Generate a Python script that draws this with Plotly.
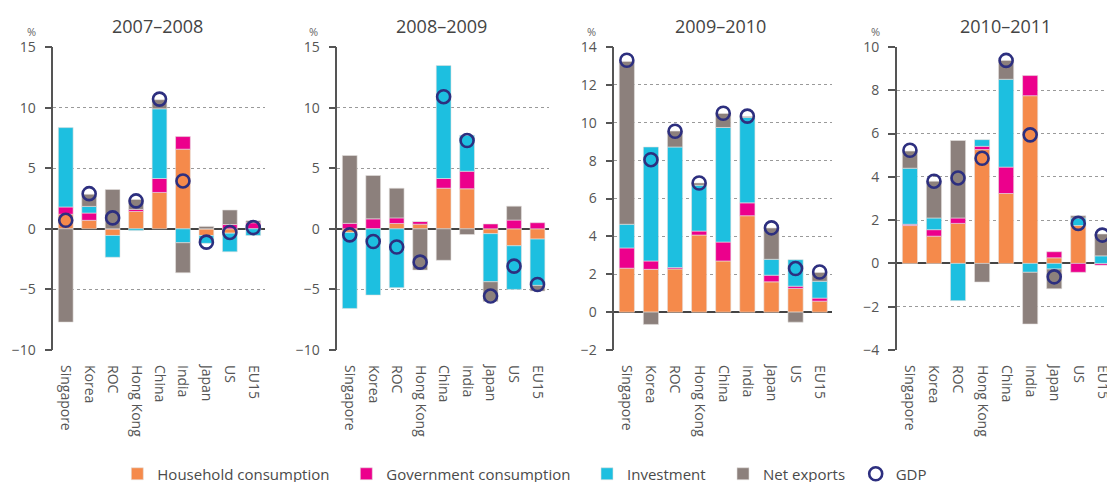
import plotly.graph_objects as go

categories = ["Singapore", "Korea", "ROC", "Hong Kong", "China", "India", "Japan", "US", "EU15"]
periods = ["2007–2008", "2008–2009", "2009–2010", "2010–2011"]

# 2007–2008
hh_0708 = [1.2, 0.7, -0.55, 1.43, 3.0, 6.57, -0.55, -0.36, 0.0]
gov_0708 = [0.6, 0.6, 0.0, 0.17, 1.15, 1.04, 0.0, 0.35, 0.5]
inv_0708 = [6.55, 0.55, -1.8, -0.15, 5.75, -1.15, -0.65, -1.54, -0.55]
net_0708 = [-7.7, 1.0, 3.24, 0.82, 0.75, -2.48, 0.2, 1.2, 0.16]
gdp_0708 = [0.7, 2.9, 0.9, 2.3, 10.7, 3.95, -1.1, -0.3, 0.1]

# 2008–2009
hh_0809 = [-0.3, 0.0, 0.44, 0.38, 3.35, 3.3, -0.4, -1.4, -0.85]
gov_0809 = [0.45, 0.82, 0.46, 0.22, 0.8, 1.45, 0.4, 0.72, 0.5]
inv_0809 = [-6.27, -5.47, -4.86, 0.0, 9.32, 2.97, -3.97, -3.6, -3.82]
net_0809 = [5.6, 3.58, 2.45, -3.4, -2.6, -0.47, -1.63, 1.15, -0.47]
gdp_0809 = [-0.5, -1.05, -1.5, -2.75, 10.9, 7.28, -5.55, -3.08, -4.6]

# 2009–2010
hh_0910 = [2.32, 2.26, 2.28, 4.07, 2.7, 5.09, 1.6, 1.25, 0.58]
gov_0910 = [1.07, 0.44, 0.07, 0.21, 1.0, 0.68, 0.35, 0.12, 0.16]
inv_0910 = [1.25, 6.02, 6.37, 2.42, 6.05, 4.51, 0.84, 1.4, 0.89]
net_0910 = [8.6, -0.65, 0.84, 0.12, 0.74, 0.05, 1.65, -0.53, 0.46]
gdp_0910 = [13.3, 8.05, 9.55, 6.82, 10.5, 10.35, 4.45, 2.3, 2.12]

# 2010–2011
hh_1011 = [1.75, 1.26, 1.85, 5.26, 3.23, 7.75, 0.26, 1.75, 0.0]
gov_1011 = [0.06, 0.3, 0.25, 0.15, 1.22, 0.93, 0.28, -0.41, -0.08]
inv_1011 = [2.59, 0.54, -1.72, 0.31, 4.06, -0.41, -0.26, 0.35, 0.35]
net_1011 = [0.79, 1.7, 3.58, -0.86, 0.87, -2.39, -0.91, 0.1, 1.01]
gdp_1011 = [5.23, 3.8, 3.95, 4.86, 9.38, 5.94, -0.62, 1.85, 1.31]

series_names = ["Household consumption", "Government consumption", "Investment", "Net exports"]
colors = ["#F58A4B", "#EC008C", "#1DBFE0", "#8C807C"]
gdp_color = "#2D2F7F"

panels = [
    [hh_0708, gov_0708, inv_0708, net_0708, gdp_0708],
    [hh_0809, gov_0809, inv_0809, net_0809, gdp_0809],
    [hh_0910, gov_0910, inv_0910, net_0910, gdp_0910],
    [hh_1011, gov_1011, inv_1011, net_1011, gdp_1011],
]

W, H = 1107, 482
# pixel geometry of each panel
x_px = [(53.3, 265.0), (337.3, 549.0), (614.3, 831.7), (896.7, 1107.0)]
x_ranges = [[-0.53, 8.5], [-0.53, 8.49], [-0.52, 8.5], [-0.55, 8.195]]
y_ranges = [[-10, 15], [-10, 15], [-2, 14], [-4, 10]]
y_dticks = [5, 5, 2, 2]
title_x = [157, 441.5, 720.5, 1005.5]
pct_x = [31, 313.3, 591.7, 875]
y_dom = [1 - 350 / H, 1 - 47 / H]

font_family = "Open Sans, Noto Sans, sans-serif"
text_col = "#4a4a4a"

fig = go.Figure()
legend_ids = ["legend", "legend2", "legend3", "legend4", "legend5"]

for p, vals in enumerate(panels):
    xa = "x" if p == 0 else f"x{p+1}"
    ya = "y" if p == 0 else f"y{p+1}"
    for s in range(4):
        fig.add_trace(go.Bar(
            x=categories, y=vals[s], name=series_names[s],
            marker=dict(color=colors[s], line=dict(color="#e4e0df", width=0.6)),
            width=0.63, xaxis=xa, yaxis=ya,
            showlegend=(p == 0), legend=legend_ids[s],
        ))
    fig.add_trace(go.Scatter(
        x=categories, y=vals[4], name="GDP", mode="markers",
        marker=dict(symbol="circle-open", size=13, color=gdp_color,
                    line=dict(width=2.6, color=gdp_color)),
        xaxis=xa, yaxis=ya, showlegend=(p == 0), legend="legend5",
    ))

layout = dict(
    width=W, height=H,
    margin=dict(l=0, r=0, t=0, b=0, autoexpand=False),
    paper_bgcolor="white", plot_bgcolor="white",
    barmode="relative", bargap=0.3,
    font=dict(family=font_family, size=14, color=text_col),
    annotations=[],
)

for p in range(4):
    sfx = "" if p == 0 else str(p + 1)
    x0, x1 = x_px[p]
    layout["xaxis" + sfx] = dict(
        domain=[x0 / W, x1 / W], range=x_ranges[p], anchor="y" + sfx,
        showline=False, showgrid=False, zeroline=False, ticks="",
        tickangle=90, tickfont=dict(size=14, color="#555555"),
        ticklabelstandoff=14, fixedrange=True, automargin=False,
    )
    layout["yaxis" + sfx] = dict(
        domain=y_dom, range=y_ranges[p], anchor="x" + sfx,
        dtick=y_dticks[p], tick0=0,
        showline=True, linecolor="#555555", linewidth=1.5,
        ticks="outside", ticklen=7, tickcolor="#555555", tickwidth=1.5,
        tickfont=dict(size=14, color="#555555"),
        showgrid=True, gridcolor="#9a9a9a", gridwidth=1, griddash="dot",
        zeroline=True, zerolinecolor="#444444", zerolinewidth=1.6,
        ticklabelstandoff=6, fixedrange=True, automargin=False,
    )
    layout["annotations"].append(dict(
        text=periods[p], x=title_x[p] / W, y=1 - 26 / H, xref="paper", yref="paper",
        showarrow=False, xanchor="center", yanchor="middle",
        font=dict(size=18, color="#444444", family=font_family),
    ))
    layout["annotations"].append(dict(
        text="%", x=pct_x[p] / W, y=1 - 31.5 / H, xref="paper", yref="paper",
        showarrow=False, xanchor="center", yanchor="middle", borderpad=0,
        font=dict(size=11, color="#666666", family=font_family),
    ))

legend_text_x = [159.3, 388.3, 629.0, 765.0, 897.7]
for i, lid in enumerate(legend_ids):
    layout[lid] = dict(
        x=(legend_text_x[i] - 42) / W, xanchor="left",
        y=1 - 474 / H, yanchor="middle",
        orientation="h", bgcolor="rgba(0,0,0,0)", borderwidth=0,
        font=dict(size=15, color="#4a4a4a", family=font_family),
        itemwidth=30, tracegroupgap=0,
    )

fig.update_layout(**layout)
fig.write_html(
    "out.html", include_plotlyjs=True, config={"displayModeBar": False},
    post_script="document.body.style.margin='0px';document.body.style.overflow='hidden';",
)
